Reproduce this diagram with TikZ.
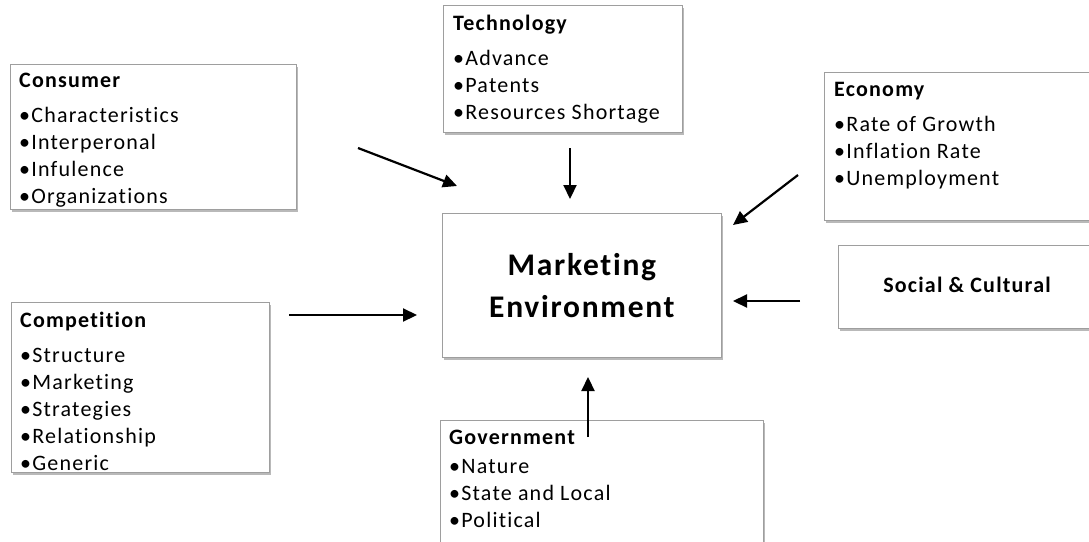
\documentclass[tikz,border=0pt]{standalone}
\usepackage{fontspec}
\setmainfont{Carlito}[LetterSpace=5.5, Ligatures=NoCommon]
\usetikzlibrary{arrows.meta, shadows, positioning}

\tikzset{
  panel/.style={draw=black!38, line width=0.8pt, fill=white, anchor=north west,
    inner sep=0pt,
    drop shadow={shadow xshift=1.5pt, shadow yshift=-2.5pt, opacity=0.5, fill=black!55}},
  items/.style={anchor=north west, align=left, inner sep=0pt,
    font=\fontsize{22}{27}\selectfont},
  flow/.style={line width=2.2pt, -{Triangle[length=14pt,width=13pt]}},
}

\begin{document}
\begin{tikzpicture}[x=1pt, y=-1pt]
  \useasboundingbox (0,0) rectangle (1089,541);
  \clip (0,0) rectangle (1089,541);

  % boxes
  \node[panel, minimum width=286pt, minimum height=145pt] (consumer) at (10,64) {};
  \node[panel, minimum width=239pt, minimum height=127pt] (tech) at (443,5) {};
  \node[panel, minimum width=280pt, minimum height=148pt] (economy) at (824,72) {};
  \node[panel, minimum width=279pt, minimum height=144pt] (market) at (442,213) {};
  \node[panel, minimum width=270pt, minimum height=83pt] (social) at (838,245) {};
  \node[panel, minimum width=258pt, minimum height=170pt] (compet) at (11,302) {};
  \node[panel, minimum width=323pt, minimum height=150pt] (govt) at (440,420) {};

  % box texts
  \node[items] (consumer-txt) at ([shift={(9,9)}]consumer.north west)
    {\textbf{Consumer}\\[8pt]
     \textbullet Characteristics\\
     \textbullet Interperonal\\
     \textbullet Infulence\\
     \textbullet Organizations};
  \node[items] (tech-txt) at ([shift={(10,10)}]tech.north west)
    {\textbf{Technology}\\[8pt]
     \textbullet Advance\\
     \textbullet Patents\\
     \textbullet Resources Shortage};
  \node[items] (economy-txt) at ([shift={(10,10)}]economy.north west)
    {\textbf{Economy}\\[8pt]
     \textbullet Rate of Growth\\
     \textbullet Inflation Rate\\
     \textbullet Unemployment};
  \node[items] (compet-txt) at ([shift={(9,10)}]compet.north west)
    {\textbf{Competition}\\[8pt]
     \textbullet Structure\\
     \textbullet Marketing\\
     \textbullet Strategies\\
     \textbullet Relationship\\
     \textbullet Generic};
  \node[items] (govt-txt) at ([shift={(9,10)}]govt.north west)
    {\textbf{Government}\\[2pt]
     \textbullet Nature\\
     \textbullet State and Local\\
     \textbullet Political};
  \node[align=center, font=\bfseries\fontsize{31.5}{42}\selectfont] (market-txt)
    at (market.center) {Marketing\\Environment};
  \node[font=\bfseries\fontsize{22}{24}\selectfont] (social-txt)
    at (967,285) {Social \& Cultural};

  % arrows into the centre box
  \coordinate (c1) at (358,148);  \coordinate (c2) at (457,186);
  \coordinate (t1) at (570,148);  \coordinate (t2) at (570,199);
  \coordinate (e1) at (798,175);  \coordinate (e2) at (733,225);
  \coordinate (s1) at (800,301);  \coordinate (s2) at (733,301);
  \coordinate (k1) at (289,315);  \coordinate (k2) at (417,315);
  \coordinate (g1) at (588,437);  \coordinate (g2) at (588,377);

  \draw[flow] (c1) -- (c2);
  \draw[flow] (t1) -- (t2);
  \draw[flow] (e1) -- (e2);
  \draw[flow] (s1) -- (s2);
  \draw[flow] (k1) -- (k2);
  \draw[flow] (g1) -- (g2);
\end{tikzpicture}
\end{document}
